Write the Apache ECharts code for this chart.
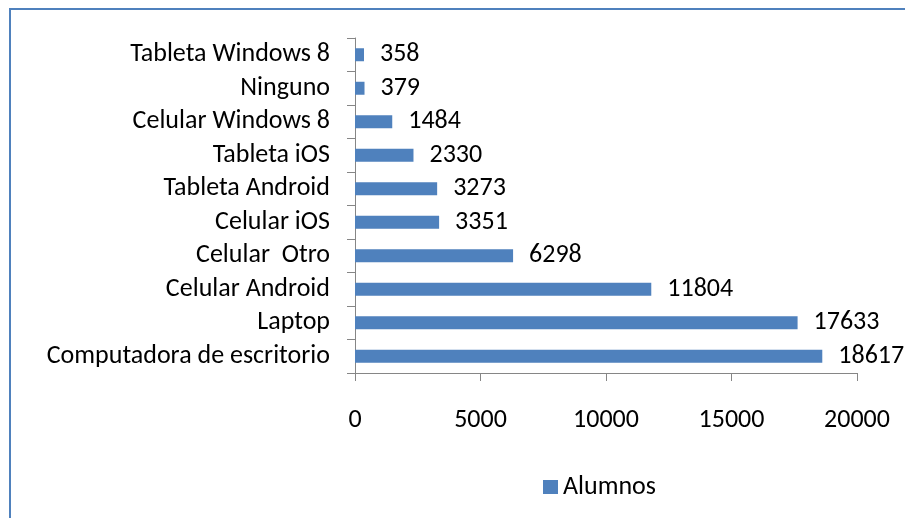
<!DOCTYPE html>
<html>
<head>
<meta charset="utf-8">
<script src="https://cdn.jsdelivr.net/npm/echarts@6/dist/echarts.min.js"></script>
<style>
    html, body { margin: 0; padding: 0; background: #fff; }
    #chart { width: 905px; height: 518px; }
</style>
</head>
<body>
<div id="chart"></div>
<script>
    // Categories from bottom to top as drawn
    var categories = ['Computadora de escritorio', 'Laptop', 'Celular Android', 'Celular  Otro',
        'Celular iOS', 'Tableta Android', 'Tableta iOS', 'Celular Windows 8', 'Ninguno', 'Tableta Windows 8'];
    var alumnos = [18617, 17633, 11804, 6298, 3351, 3273, 2330, 1484, 379, 358];
    var seriesName = 'Alumnos';

    var font = 'Carlito, Calibri, Lato, sans-serif';
    var fs = 26;
    var chart = echarts.init(document.getElementById('chart'));

    var option = {
        animation: false,
        textStyle: { fontFamily: font },
        graphic: [{
            type: 'rect',
            shape: { x: 10, y: 9, width: 1000, height: 600 },
            style: { fill: 'none', stroke: '#4f81bd', lineWidth: 2 }
        }],
        legend: {
            data: [seriesName],
            left: 538,
            top: 469,
            itemWidth: 15,
            itemHeight: 14,
            icon: 'rect',
            textStyle: { fontSize: fs, color: '#000', fontFamily: font }
        },
        grid: {
            left: 355,
            right: 48,
            top: 38,
            bottom: 145,
            containLabel: false
        },
        xAxis: {
            type: 'value',
            min: 0,
            max: 20000,
            interval: 5000,
            axisLine: { show: true, lineStyle: { color: '#868686' } },
            axisTick: { show: true, length: 8, lineStyle: { color: '#868686' } },
            splitLine: { show: false },
            axisLabel: {
                color: '#000', fontSize: fs, fontFamily: font, margin: 34,
                formatter: function (v) { return String(v); }
            }
        },
        yAxis: {
            type: 'category',
            data: categories,
            axisLine: { show: true, lineStyle: { color: '#868686' } },
            axisTick: { show: true, length: 8, interval: 0, lineStyle: { color: '#868686' } },
            axisLabel: { color: '#000', fontSize: fs, fontFamily: font, margin: 25, interval: 0, hideOverlap: false }
        },
        series: [{
            name: seriesName,
            type: 'bar',
            data: alumnos,
            barWidth: 13,
            itemStyle: { color: '#4f81bd' },
            label: {
                show: true,
                position: 'right',
                distance: 16,
                color: '#000',
                fontSize: fs,
                fontFamily: font
            }
        }]
    };

    chart.setOption(option);
</script>
</body>
</html>
